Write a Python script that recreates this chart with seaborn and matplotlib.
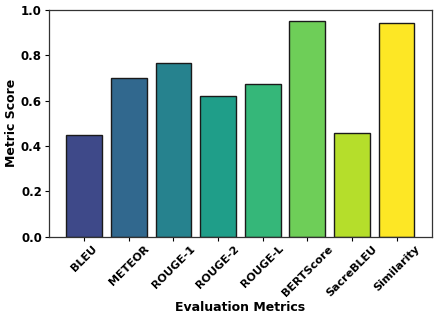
import matplotlib
matplotlib.use("Agg")
import matplotlib.pyplot as plt
import seaborn as sns
import numpy as np
import pandas as pd

# metric names and scores
metrics = ["BLEU", "METEOR", "ROUGE-1", "ROUGE-2", "ROUGE-L", "BERTScore", "SacreBLEU", "Similarity"]
scores = [0.45, 0.70, 0.765, 0.62, 0.675, 0.95, 0.457, 0.942]

df = pd.DataFrame({"metric": metrics, "score": scores})

sns.set_style("ticks")
plt.rcParams["font.family"] = ["DejaVu Sans"]
plt.rcParams["font.weight"] = "bold"
plt.rcParams["text.color"] = "black"
plt.rcParams["axes.labelcolor"] = "black"
plt.rcParams["xtick.color"] = "black"
plt.rcParams["ytick.color"] = "black"

colors = [plt.cm.viridis(v) for v in np.linspace(2 / 9, 1, len(metrics))]

fig, ax = plt.subplots(figsize=(4.48, 3.22), dpi=100)
sns.barplot(data=df, x="metric", y="score", hue="metric", palette=colors,
            saturation=1, legend=False, width=0.8, edgecolor="#1a1a1a",
            linewidth=1.0, ax=ax)

ax.set_xlim(-0.79, 7.79)
ax.set_ylim(0, 1.0)
yt = [0, 0.2, 0.4, 0.6, 0.8, 1.0]
ax.set_yticks(yt)
ax.set_yticklabels([f"{v:.1f}" for v in yt], fontsize=8.5, fontweight="bold")
ax.set_xticks(range(len(metrics)))
ax.set_xticklabels(metrics, rotation=45, ha="center", fontsize=8, fontweight="bold")
ax.tick_params(axis="both", length=3, pad=2)
ax.set_xlabel("Evaluation Metrics", fontsize=9, fontweight="bold", labelpad=2)
ax.set_ylabel("Metric Score", fontsize=9, fontweight="bold", labelpad=2)
for s in ax.spines.values():
    s.set_color("#333333")
    s.set_linewidth(0.9)

fig.subplots_adjust(left=0.109, right=0.964, top=0.969, bottom=0.265)
fig.savefig("out.png", dpi=100)
